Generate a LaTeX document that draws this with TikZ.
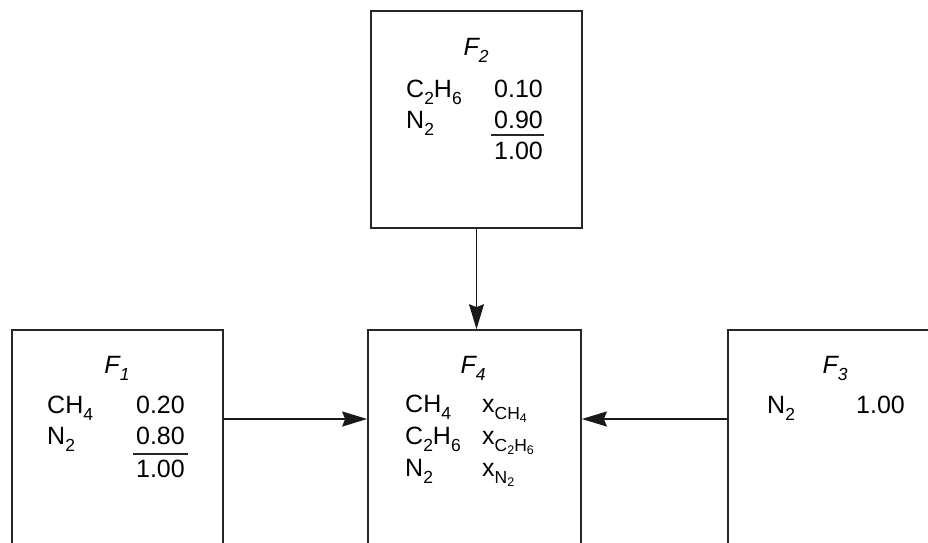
\documentclass[tikz,border=0pt]{standalone}
\usepackage{fontspec}
\setmainfont{Liberation Sans}
\usetikzlibrary{arrows.meta}
\newcommand\sbx[1]{\raisebox{-0.28em}{\fontsize{17.5}{17.5}\selectfont #1}}
\newcommand\sbxx[1]{\raisebox{-0.2em}{\fontsize{12.5}{12.5}\selectfont #1}}
\begin{document}
\begin{tikzpicture}[x=1pt,y=-1pt,
  box/.style={draw=black!85, line width=1.7pt, rectangle, inner sep=0pt},
  txt/.style={anchor=base west, inner sep=0pt, font=\fontsize{25}{30}\selectfont},
  num/.style={anchor=base east, inner sep=0pt, font=\fontsize{25}{30}\selectfont},
  lbl/.style={anchor=base, inner sep=0pt, font=\fontsize{25}{30}\selectfont\itshape},
  arr/.style={draw=black!90, line width=2pt, -{Stealth[length=25pt,width=15pt,inset=3pt]}},
  sumrule/.style={draw=black!85, line width=1.5pt}]
\useasboundingbox (0,0) rectangle (928,542);
\clip (0,0) rectangle (928,542);
% boxes
\node[box, minimum width=211pt, minimum height=217pt] (f2) at (476.5,119.5) {};
\node[box, minimum width=211pt, minimum height=270pt] (f1) at (117.5,465) {};
\node[box, minimum width=213pt, minimum height=270pt] (f4) at (474.5,465) {};
\node[box, minimum width=272pt, minimum height=270pt] (f3) at (864,465) {};
% F2 contents
\node[lbl] (f2l) at (476,55) {F\sbx{2}};
\node[txt] (f2a) at (406,97) {C\sbx{2}H\sbx{6}};
\node[num] (f2av) at (543,97) {0.10};
\node[txt] (f2b) at (406,128) {N\sbx{2}};
\node[num] (f2bv) at (543,128) {0.90};
\draw[sumrule] (491,135) -- (544,135);
\node[num] (f2t) at (543,159) {1.00};
% F1 contents
\node[lbl] (f1l) at (117,373) {F\sbx{1}};
\node[txt] (f1a) at (47,413) {CH\sbx{4}};
\node[num] (f1av) at (185,413) {0.20};
\node[txt] (f1b) at (47,444) {N\sbx{2}};
\node[num] (f1bv) at (185,444) {0.80};
\draw[sumrule] (133,454) -- (188,454);
\node[num] (f1t) at (185,477) {1.00};
% F4 contents
\node[lbl] (f4l) at (473,373) {F\sbx{4}};
\node[txt] (f4a) at (405,412) {CH\sbx{4}};
\node[txt] (f4av) at (482,412) {x\sbx{CH\sbxx{4}}};
\node[txt] (f4b) at (405,444) {C\sbx{2}H\sbx{6}};
\node[txt] (f4bv) at (482,444) {x\sbx{C\sbxx{2}H\sbxx{6}}};
\node[txt] (f4c) at (405,476) {N\sbx{2}};
\node[txt] (f4cv) at (482,476) {x\sbx{N\sbxx{2}}};
% F3 contents
\node[lbl] (f3l) at (835,373) {F\sbx{3}};
\node[txt] (f3a) at (767,413) {N\sbx{2}};
\node[num] (f3av) at (905,413) {1.00};
% connectors
\coordinate (ay) at (0,419);
\draw[arr] (ay -| f1.east) -- (ay -| f4.west);
\draw[arr] (ay -| f3.west) -- (ay -| f4.east);
\draw[arr, line width=1.3pt] (f2.south) -- (f2.south |- f4.north);
\end{tikzpicture}
\end{document}
